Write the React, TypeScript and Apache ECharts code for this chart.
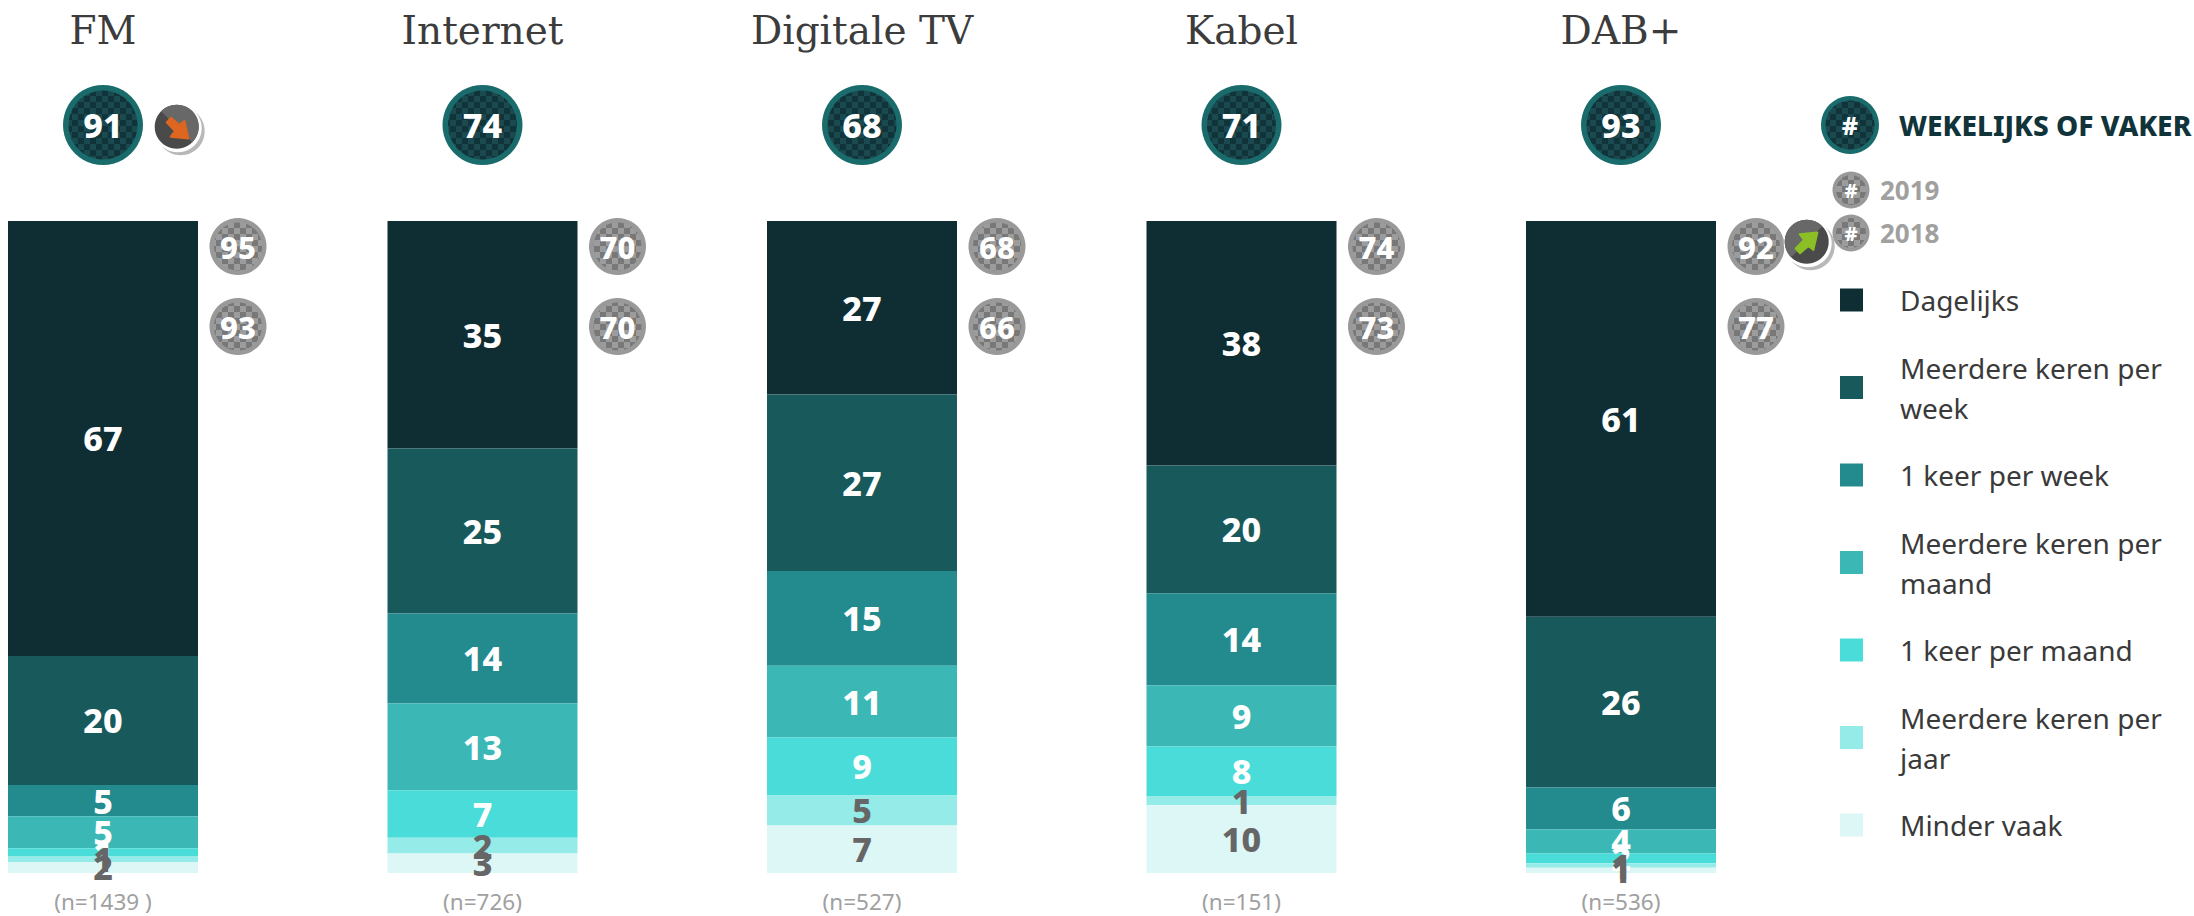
import React, { useEffect, useRef } from "react";
import * as echarts from "echarts";

const categories = ["FM", "Internet", "Digitale TV", "Kabel", "DAB+"];
const sampleLabels = ["(n=1439 )", "(n=726)", "(n=527)", "(n=151)", "(n=536)"];

const dagelijks = [66.7, 34.9, 26.6, 37.5, 60.7];
const meerdereWeek = [19.8, 25.3, 27.1, 19.6, 26.2];
const eenWeek = [4.8, 13.8, 14.5, 14.1, 6.4];
const meerdereMaand = [4.9, 13.3, 11.0, 9.4, 3.7];
const eenMaand = [1.2, 7.3, 8.9, 7.6, 1.5];
const meerdereJaar = [0.9, 2.4, 4.6, 1.4, 0.7];
const minderVaak = [1.7, 3.0, 7.3, 10.4, 0.8];

const weekly2020 = [91, 74, 68, 71, 93];
const weekly2019 = [95, 70, 68, 74, 92];
const weekly2018 = [93, 70, 66, 73, 77];

const seriesNames = [
  "Dagelijks",
  "Meerdere keren per week",
  "1 keer per week",
  "Meerdere keren per maand",
  "1 keer per maand",
  "Meerdere keren per jaar",
  "Minder vaak",
];
const seriesValues = [dagelijks, meerdereWeek, eenWeek, meerdereMaand, eenMaand, meerdereJaar, minderVaak];
const seriesColors = ["#0f2e33", "#185a5c", "#238a8d", "#3bb8b6", "#4adcd9", "#94ebe8", "#dcf7f6"];
const labelColors = ["#ffffff", "#ffffff", "#ffffff", "#ffffff", "#ffffff", "#666666", "#666666"];

const SANS = '"Noto Sans", sans-serif';
const BAND = 379.5;
const FIRST_CENTER = 103;
const center = (i: number) => FIRST_CENTER + BAND * i;

function checker(a: string, b: string, cell: number) {
  const c = document.createElement("canvas");
  c.width = cell * 2;
  c.height = cell * 2;
  const g = c.getContext("2d")!;
  g.fillStyle = a;
  g.fillRect(0, 0, cell * 2, cell * 2);
  g.fillStyle = b;
  g.fillRect(0, 0, cell, cell);
  g.fillRect(cell, cell, cell, cell);
  return { type: "pattern", image: c.toDataURL(), repeat: "repeat" };
}

function badge(x: number, y: number, r: number, inner: number, ring: string, fill: any, text: string, size: number) {
  return [
    { type: "circle", shape: { cx: x, cy: y, r }, style: { fill: ring } },
    { type: "circle", shape: { cx: x, cy: y, r: inner }, style: { fill } },
    {
      type: "text",
      x,
      y,
      style: {
        text,
        fill: "#ffffff",
        font: `800 ${size}px ${SANS}`,
        align: "center",
        verticalAlign: "middle",
      },
    },
  ];
}

function trendBadge(x: number, y: number, up: boolean) {
  const arrowDown = [[-5.7, -9], [2.7, -1.7], [7.7, -5.7], [11.7, 11.7], [-6, 10], [-1.7, 4.3], [-10, -4.3]];
  const arrow = up ? arrowDown.map(([a, b]) => [x + a - 1, y - b + 2.5]) : arrowDown.map(([a, b]) => [x + a, y + b]);
  const colour = up ? "#8cbf26" : "#dd6620";
  return [
    { type: "circle", shape: { cx: x + 4, cy: y + 4.5, r: 24 }, style: { fill: "#b8b8b8" } },
    { type: "circle", shape: { cx: x + 1, cy: y + 1.5, r: 24 }, style: { fill: "#ffffff" } },
    { type: "circle", shape: { cx: x, cy: y, r: 22 }, style: { fill: "#4a4a4a" } },
    {
      type: "sector",
      shape: up
        ? { cx: x, cy: y, r0: 0, r: 22, startAngle: (3 * Math.PI) / 4, endAngle: (7 * Math.PI) / 4 }
        : { cx: x, cy: y, r0: 0, r: 22, startAngle: (-3 * Math.PI) / 4, endAngle: Math.PI / 4 },
      style: { fill: "#686868" },
    },
    {
      type: "polygon",
      shape: { points: arrow },
      style: { fill: colour, stroke: colour, lineWidth: 2, lineJoin: "round" },
    },
  ];
}

export default function App() {
  const ref = useRef<HTMLDivElement>(null);
  useEffect(() => {
    const chart = echarts.init(ref.current!, undefined, { renderer: "svg" });
    const darkCheck = checker("#1a4a50", "#10343a", 6);
    const greyCheck = checker("#9c9c9c", "#787878", 6);
    const graphics: any[] = [];
    categories.forEach((_, i) => {
      graphics.push(...badge(center(i), 125, 40, 34.5, "#1a6b6b", darkCheck, String(weekly2020[i]), 34));
      graphics.push(...badge(center(i) + 135, 246.5, 28.5, 24, "#999999", greyCheck, String(weekly2019[i]), 31));
      graphics.push(...badge(center(i) + 135, 326.5, 28.5, 24, "#999999", greyCheck, String(weekly2018[i]), 31));
    });
    graphics.push(...trendBadge(176.7, 126.7, false));
    graphics.push(...trendBadge(1806.7, 241.7, true));
    graphics.push(...badge(1850, 125, 29, 24.5, "#1a6b6b", darkCheck, "#", 25));
    graphics.push(...badge(1851, 190, 18.5, 15, "#999999", greyCheck, "#", 20));
    graphics.push(...badge(1851, 233, 18.5, 15, "#999999", greyCheck, "#", 20));
    graphics.push({
      type: "text",
      x: 1899,
      y: 125,
      style: { text: "WEKELIJKS OF VAKER", fill: "#10343a", font: `800 28px ${SANS}`, verticalAlign: "middle" },
    });
    [["2019", 190], ["2018", 233]].forEach(([t, y]) => {
      graphics.push({
        type: "text",
        x: 1880,
        y,
        style: { text: t, fill: "#a0a0a0", font: `700 26px ${SANS}`, verticalAlign: "middle" },
      });
    });

    chart.setOption({
      animation: false,
      backgroundColor: "#ffffff",
      grid: { left: FIRST_CENTER - BAND / 2, top: 221, width: BAND * 5, height: 652, outerBoundsMode: "none" },
      xAxis: [
        {
          type: "category",
          position: "bottom",
          data: categories,
          axisLine: { show: false },
          axisTick: { show: false },
          axisLabel: {
            interval: 0,
            margin: 28,
            verticalAlign: "middle",
            color: "#a0a0a0",
            fontSize: 22.5,
            fontFamily: SANS,
            formatter: (_: string, i: number) => sampleLabels[i],
          },
        },
        {
          type: "category",
          position: "top",
          data: categories,
          axisLine: { show: false },
          axisTick: { show: false },
          axisLabel: {
            interval: 0,
            margin: 191,
            verticalAlign: "middle",
            color: "#3c3c3c",
            fontSize: 39,
            fontFamily: '"DejaVu Serif", serif',
          },
        },
      ],
      yAxis: { type: "value", min: 0, max: 100, inverse: true, show: false },
      legend: {
        left: 1840,
        top: 280,
        padding: 0,
        orient: "vertical",
        selectedMode: false,
        icon: "rect",
        itemWidth: 23,
        itemHeight: 23,
        itemGap: 27.5,
        data: seriesNames,
        formatter: (n: string) => n.replace(/^Meerdere keren per /, "Meerdere keren per\n"),
        textStyle: {
          color: "#3a3a3a",
          fontFamily: SANS,
          fontSize: 28,
          lineHeight: 40,
          padding: [0, 0, 0, 32],
        },
      },
      series: seriesNames.map((name, s) => ({
        name,
        type: "bar",
        stack: "total",
        barWidth: 190,
        data: seriesValues[s],
        itemStyle: { color: seriesColors[s] },
        label: {
          show: true,
          position: "inside",
          color: labelColors[s],
          fontFamily: SANS,
          fontWeight: 800,
          fontSize: 34,
          formatter: (p: any) => String(Math.round(p.value)),
        },
      })),
      graphic: { elements: graphics },
    });
    return () => chart.dispose();
  }, []);
  return <div ref={ref} style={{ position: "fixed", left: 0, top: 0, width: 2194, height: 916 }} />;
}
